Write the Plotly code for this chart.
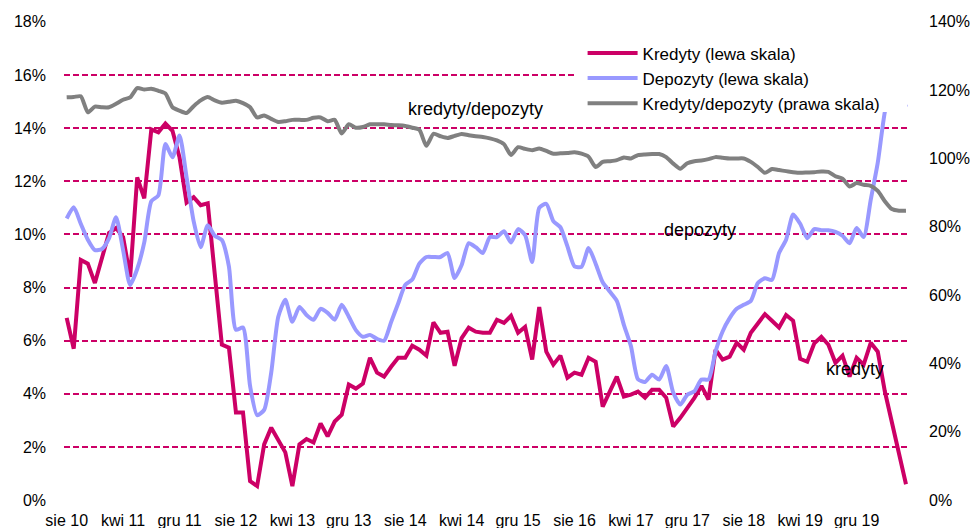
import plotly.graph_objects as go

# Monthly data, Aug 2010 - Jul 2020 (y/y growth, %)
kredyty = [6.86, 5.7, 9.04, 8.9, 8.17, 9.1, 10.05, 10.24, 9.9, 8.4,
           12.15, 11.36, 13.95, 13.84, 14.17, 13.9, 12.9, 11.2, 11.4, 11.1,
           11.17, 8.5, 5.85, 5.74, 3.3, 3.3, 0.72, 0.53, 2.1, 2.73,
           2.25, 1.8, 0.53, 2.1, 2.3, 2.17, 2.89, 2.4, 2.96, 3.22,
           4.35, 4.2, 4.39, 5.36, 4.8, 4.65, 5.02, 5.36, 5.36, 5.81,
           5.66, 5.44, 6.69, 6.3, 6.34, 5.06, 6.1, 6.49, 6.34, 6.3,
           6.3, 6.79, 6.67, 6.94, 6.3, 6.52, 5.29, 7.27, 5.59, 5.1,
           5.44, 4.61, 4.8, 4.72, 5.36, 5.21, 3.52, 4.05, 4.65, 3.9,
           3.97, 4.09, 3.86, 4.16, 4.16, 3.86, 2.77, 3.1, 3.45, 3.85,
           4.3, 3.79, 5.66, 5.29, 5.4, 5.92, 5.66, 6.3, 6.65, 7.0,
           6.75, 6.5, 6.97, 6.75, 5.32, 5.21, 5.9, 6.15, 5.85, 5.17,
           5.44, 4.65, 5.36, 5.1, 5.92, 5.59, 4.1, 2.95, 1.8, 0.6]

depozyty = [10.6, 11.02, 10.4, 9.8, 9.41, 9.45, 9.85, 10.65, 9.41, 8.1,
            8.7, 9.7, 11.25, 11.47, 13.4, 12.9, 13.72, 12.15, 10.5, 9.52,
            10.35, 9.95, 9.79, 8.8, 6.41, 6.5, 4.3, 3.2, 3.4, 4.8,
            6.9, 7.54, 6.71, 7.27, 6.97, 6.79, 7.2, 7.05, 6.79, 7.35,
            6.9, 6.4, 6.15, 6.22, 6.07, 6.0, 6.7, 7.4, 8.1, 8.3,
            8.9, 9.15, 9.15, 9.15, 9.3, 8.36, 8.85, 9.67, 9.52, 9.3,
            9.9, 9.9, 10.12, 9.7, 10.2, 9.97, 8.96, 11.0, 11.15, 10.5,
            10.27, 9.55, 8.8, 8.78, 9.49, 8.9, 8.2, 7.85, 7.5, 6.6,
            5.8, 4.55, 4.45, 4.72, 4.54, 5.05, 4.05, 3.6, 3.97, 4.1,
            4.54, 4.54, 5.6, 6.35, 6.85, 7.2, 7.35, 7.5, 8.17, 8.35,
            8.29, 9.3, 9.8, 10.75, 10.4, 9.86, 10.2, 10.16, 10.16, 10.1,
            9.95, 9.67, 10.24, 9.9, 11.3, 12.7, 14.6, 15.6, 15.4, 14.8]

kred_depo = [117.9, 118.0, 118.2, 113.5, 115.2, 115.0, 115.0, 116.0, 117.2, 117.9,
             120.6, 120.2, 120.4, 119.8, 119.0, 115.0, 114.0, 113.3, 115.3, 117.0,
             118.0, 117.0, 116.3, 116.6, 116.9, 116.2, 115.0, 112.0, 112.6, 111.6,
             110.7, 110.9, 111.3, 111.3, 111.3, 111.9, 112.0, 110.9, 111.3, 107.3,
             110.0, 109.0, 109.2, 110.0, 110.0, 110.0, 109.8, 109.7, 109.5, 109.0,
             108.4, 103.7, 107.2, 106.5, 106.0, 106.6, 107.2, 106.8, 106.5, 106.3,
             105.9, 105.3, 104.2, 101.0, 103.3, 102.8, 102.4, 102.9, 102.2, 101.4,
             101.5, 101.6, 101.8, 101.4, 100.5, 97.5, 99.0, 99.2, 99.5, 100.3,
             100.0, 101.0, 101.2, 101.3, 101.3, 100.4, 98.5, 97.0, 98.6, 99.2,
             99.4, 99.8, 100.4, 100.2, 100.0, 100.0, 100.0, 99.0, 97.5, 95.8,
             96.9, 96.6, 96.3, 96.0, 95.8, 95.9, 96.0, 96.2, 96.1, 94.8,
             94.1, 91.8, 92.8, 92.3, 92.0, 90.5, 87.5, 85.2, 84.7, 84.7]

tick_labels = ["sie 10", "kwi 11", "gru 11", "sie 12", "kwi 13", "gru 13", "sie 14",
               "kwi 14", "gru 15", "sie 16", "kwi 17", "gru 17", "sie 18", "kwi 19", "gru 19"]
tick_step = 8
left_ticks = list(range(0, 19, 2))
right_ticks = list(range(0, 141, 20))

x_k = list(range(len(kredyty)))
x_d = list(range(len(depozyty)))
x_r = list(range(len(kred_depo)))
tickvals = [i * tick_step for i in range(len(tick_labels))]

MAG = "#CC0066"
BLUE = "#9999FF"
GRAY = "#808080"
FONT = "Liberation Sans, Arial, sans-serif"

fig = go.Figure()
fig.add_trace(go.Scatter(x=x_k, y=kredyty, mode="lines", name="Kredyty (lewa skala)",
                         line=dict(color=MAG, width=4)))
fig.add_trace(go.Scatter(x=x_d, y=depozyty, mode="lines", name="Depozyty (lewa skala)",
                         line=dict(color=BLUE, width=4, shape="spline", smoothing=0.6)))
fig.add_trace(go.Scatter(x=x_r, y=kred_depo, mode="lines", name="Kredyty/depozyty (prawa skala)",
                         line=dict(color=GRAY, width=4, shape="spline", smoothing=0.6),
                         yaxis="y2"))

ann_font = dict(size=18, color="#000000", family=FONT)
fig.add_annotation(x=58, y=114.6, xref="x", yref="y2", text="kredyty/depozyty",
                   showarrow=False, font=ann_font)
fig.add_annotation(x=89.8, y=10.16, xref="x", yref="y", text="depozyty",
                   showarrow=False, font=ann_font)
fig.add_annotation(x=111.8, y=4.95, xref="x", yref="y", text="kredyty",
                   showarrow=False, font=ann_font)

# white legend box (covers lines/gridlines behind the legend, as in the original)
fig.add_shape(type="rect", xref="paper", yref="paper", x0=0.604, x1=0.9965,
              y0=0.8104, y1=0.9646, fillcolor="white", line=dict(width=0), layer="above")

# page body has an 8px margin: figure is shrunk and margins adjusted so the plot area
# lands at x 64..910, y 21..501 in the 978x528 window
fig.update_layout(
    width=970, height=520,
    margin=dict(l=56, r=68, t=13, b=27, autoexpand=False),
    paper_bgcolor="white", plot_bgcolor="white",
    font=dict(family=FONT, size=16, color="#000000"),
    showlegend=True,
    legend=dict(x=0.613, y=0.97, xanchor="left", yanchor="top",
                bgcolor="rgba(255,255,255,0)", font=dict(size=17),
                tracegroupgap=0, itemwidth=50),
    xaxis=dict(range=[-0.38, 119.57], tickvals=tickvals, ticktext=tick_labels,
               showgrid=False, zeroline=False, showline=False, ticks="",
               tickfont=dict(size=16), ticklabelstandoff=8, automargin=False),
    yaxis=dict(range=[-0.03, 18.03], tickvals=left_ticks,
               ticktext=[f"{v}%" for v in left_ticks],
               showgrid=True, gridcolor=MAG, griddash="6px,3px", gridwidth=1.6,
               zeroline=False, showline=False, ticks="", tickfont=dict(size=16),
               ticklabelstandoff=17, automargin=False),
    yaxis2=dict(range=[-0.233, 140.233], tickvals=right_ticks,
                ticktext=[f"{v}%" for v in right_ticks],
                overlaying="y", side="right",
                showgrid=False, zeroline=False, showline=False, ticks="",
                tickfont=dict(size=16), ticklabelstandoff=18, automargin=False),
)

fig.write_html("out.html")
